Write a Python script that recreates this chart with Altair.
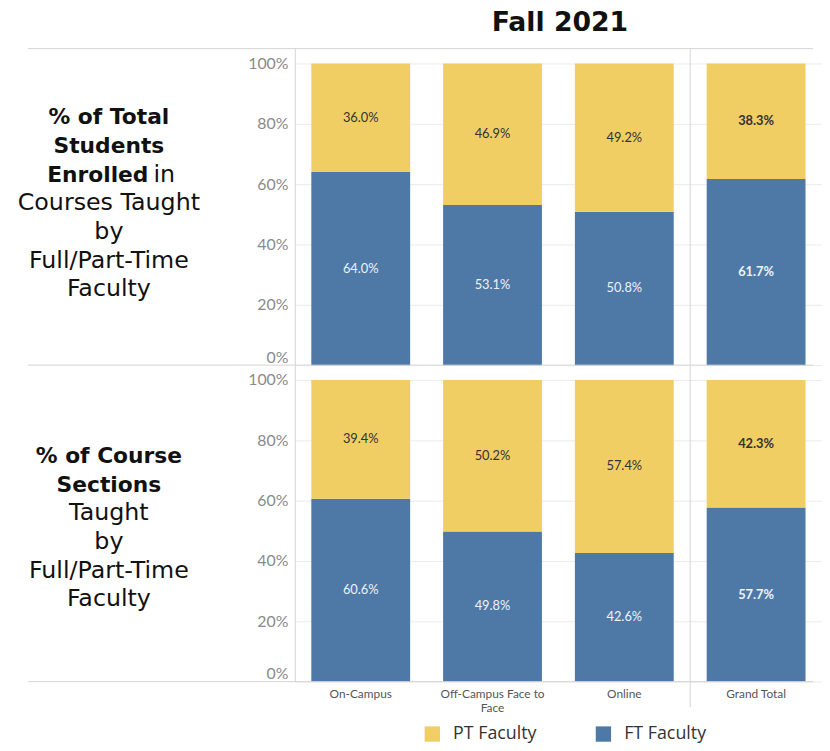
import altair as alt
import pandas as pd

categories = ["On-Campus", "Off-Campus Face to Face", "Online", "Grand Total"]
faculty = ["PT Faculty", "FT Faculty"]
enrolled_ft = [64.0, 53.1, 50.8, 61.7]
enrolled_pt = [36.0, 46.9, 49.2, 38.3]
sections_ft = [60.6, 49.8, 42.6, 57.7]
sections_pt = [39.4, 50.2, 57.4, 42.3]
tick_values = [0, 0.2, 0.4, 0.6, 0.8, 1.0]

# row header lines: (text, weight, part)
header_enrolled = [
    ("% of Total", "bold", "full"),
    ("Students", "bold", "full"),
    ("Enrolled", "bold", "left"),
    ("in", "normal", "right"),
    ("Courses Taught", "normal", "full"),
    ("by", "normal", "full"),
    ("Full/Part-Time", "normal", "full"),
    ("Faculty", "normal", "full"),
]
header_enrolled_lines = [0, 1, 2, 2, 3, 4, 5, 6]
header_sections = [
    ("% of Course", "bold", "full"),
    ("Sections", "bold", "full"),
    ("Taught", "normal", "full"),
    ("by", "normal", "full"),
    ("Full/Part-Time", "normal", "full"),
    ("Faculty", "normal", "full"),
]
header_sections_lines = [0, 1, 2, 3, 4, 5]

BLUE = "#4E79A7"
YELLOW = "#F1CE63"
GRID = "#ebebeb"
BORDER = "#d4d4d4"
W, H = 524, 320
BAND_RANGE = 533
HEAD_FONT = "DejaVu Sans"


def bar_frame(ft, pt):
    rows = []
    for c, f, p in zip(categories, ft, pt):
        rows.append({"cat": c, "fac": "FT Faculty", "val": f / 100, "ord": 0})
        rows.append({"cat": c, "fac": "PT Faculty", "val": p / 100, "ord": 1})
    return pd.DataFrame(rows)


def header_frame(items, lines):
    return pd.DataFrame(
        [{"text": t, "weight": w, "part": p, "line": l} for (t, w, p), l in zip(items, lines)]
    )


def header_layers(items, lines, y0):
    hdf = header_frame(items, lines)
    base = alt.Chart(hdf).transform_calculate(ypix=f"datum.line * 29 + {y0}")
    specs = [
        ("bold", "full", "center", 0, 22),
        ("normal", "full", "center", 0, 24),
        ("bold", "left", "right", 40, 22),
        ("normal", "right", "left", 45, 24),
    ]
    layers = []
    for w, p, align, dx, fs in specs:
        layers.append(
            base.transform_filter(
                (alt.datum.weight == w) & (alt.datum.part == p)
            ).mark_text(
                font=HEAD_FONT, fontSize=fs, fontWeight=w, align=align,
                baseline="middle", dx=dx, color="#111111",
            ).encode(
                x=alt.value(-188),
                y=alt.Y("ypix:Q", scale=None),
                text="text:N",
            )
        )
    return layers


def row_chart(ft, pt, items, lines, y0, show_x, sep_extra):
    df = bar_frame(ft, pt)
    x_scale = alt.Scale(paddingInner=0.25, paddingOuter=0.125, range=[0, BAND_RANGE])
    x_enc = alt.X(
        "cat:N", sort=categories, scale=x_scale,
        axis=alt.Axis(
            title=None, labelAngle=0, ticks=False, domain=False, grid=False,
            labelFont="Lato", labelFontSize=12, labelColor="#555555", labelPadding=7,
            labelLineHeight=14,
            labelExpr="datum.label == 'Off-Campus Face to Face' ? ['Off-Campus Face to', 'Face'] : datum.label",
        ) if show_x else None,
    )
    y_scale = alt.Scale(domain=[0, 1.049], nice=False)
    bars = alt.Chart(df).mark_bar().encode(
        x=x_enc,
        y=alt.Y(
            "val:Q", stack="zero", scale=y_scale,
            axis=alt.Axis(
                title=None, values=tick_values, format=".0%", ticks=False,
                domain=True, domainColor=BORDER, grid=True, gridColor=GRID,
                labelFont="Lato", labelFontSize=16, labelColor="#8a8a8a", labelPadding=7,
                labelFlush=True,
            ),
        ),
        color=alt.Color(
            "fac:N",
            scale=alt.Scale(domain=faculty, range=[YELLOW, BLUE]),
            legend=alt.Legend(
                orient="none", legendX=130, legendY=684, direction="horizontal",
                title=None, symbolType="square", symbolSize=240, symbolStrokeWidth=0,
                labelFont="Open Sans", labelFontSize=18, labelColor="#333333",
                columnPadding=58, labelOffset=12,
            ),
        ),
        order=alt.Order("ord:Q", sort="ascending"),
    )
    stacked = alt.Chart(df).transform_stack(
        stack="val", groupby=["cat"], as_=["v0", "v1"],
        sort=[alt.SortField("ord", order="ascending")],
    ).transform_calculate(mid="(datum.v0 + datum.v1) / 2")
    label_color = alt.condition(
        alt.datum.fac == "FT Faculty", alt.value("#eef2f8"), alt.value("#333333")
    )
    labels_reg = stacked.transform_filter(alt.datum.cat != "Grand Total").mark_text(
        font="Lato", fontSize=13, baseline="middle"
    ).encode(
        x=alt.X("cat:N", sort=categories), y=alt.Y("mid:Q"),
        text=alt.Text("val:Q", format=".1%"), color=label_color,
    )
    labels_bold = stacked.transform_filter(alt.datum.cat == "Grand Total").mark_text(
        font="Lato", fontSize=13, fontWeight="bold", baseline="middle"
    ).encode(
        x=alt.X("cat:N", sort=categories), y=alt.Y("mid:Q"),
        text=alt.Text("val:Q", format=".1%"), color=label_color,
    )
    one = pd.DataFrame({"k": [0]})
    top_rule = alt.Chart(one).mark_rule(color=BORDER, strokeWidth=1).encode(
        x=alt.value(-270), x2=alt.value(W), y=alt.value(0)
    )
    sep_rule = alt.Chart(one).mark_rule(color=BORDER, strokeWidth=1).encode(
        x=alt.value(399.75), y=alt.value(0), y2=alt.value(H + sep_extra)
    )
    # white (invisible on the page) anchor fixing the left edge of the header area
    anchor_rule = alt.Chart(one).mark_rule(color="#ffffff", strokeWidth=1).encode(
        x=alt.value(-289), y=alt.value(100), y2=alt.value(110)
    )
    layers = header_layers(items, lines, y0) + [
        bars, labels_reg, labels_bold, top_rule, sep_rule, anchor_rule
    ]
    if show_x:
        bottom_rule = alt.Chart(one).mark_rule(color=BORDER, strokeWidth=1).encode(
            x=alt.value(-270), x2=alt.value(W), y=alt.value(H)
        )
        layers.append(bottom_rule)
    return alt.layer(*layers).properties(width=W, height=H)


row1 = row_chart(enrolled_ft, enrolled_pt, header_enrolled, header_enrolled_lines, 69.5, False, 0).properties(
    title=alt.TitleParams(
        "Fall 2021", font="DejaVu Sans", fontSize=27, fontWeight="bold", color="#111111",
        anchor="middle", frame="group", offset=11.5, dx=6,
    )
)
row2 = row_chart(sections_ft, sections_pt, header_sections, header_sections_lines, 92, True, 26)

chart = alt.vconcat(row1, row2, spacing=0, bounds="flush").properties(
    padding={"left": 0, "top": -3, "right": 0, "bottom": 0}
).configure_view(stroke=None)

chart.save("out.html", embed_options={"renderer": "svg", "actions": False})
